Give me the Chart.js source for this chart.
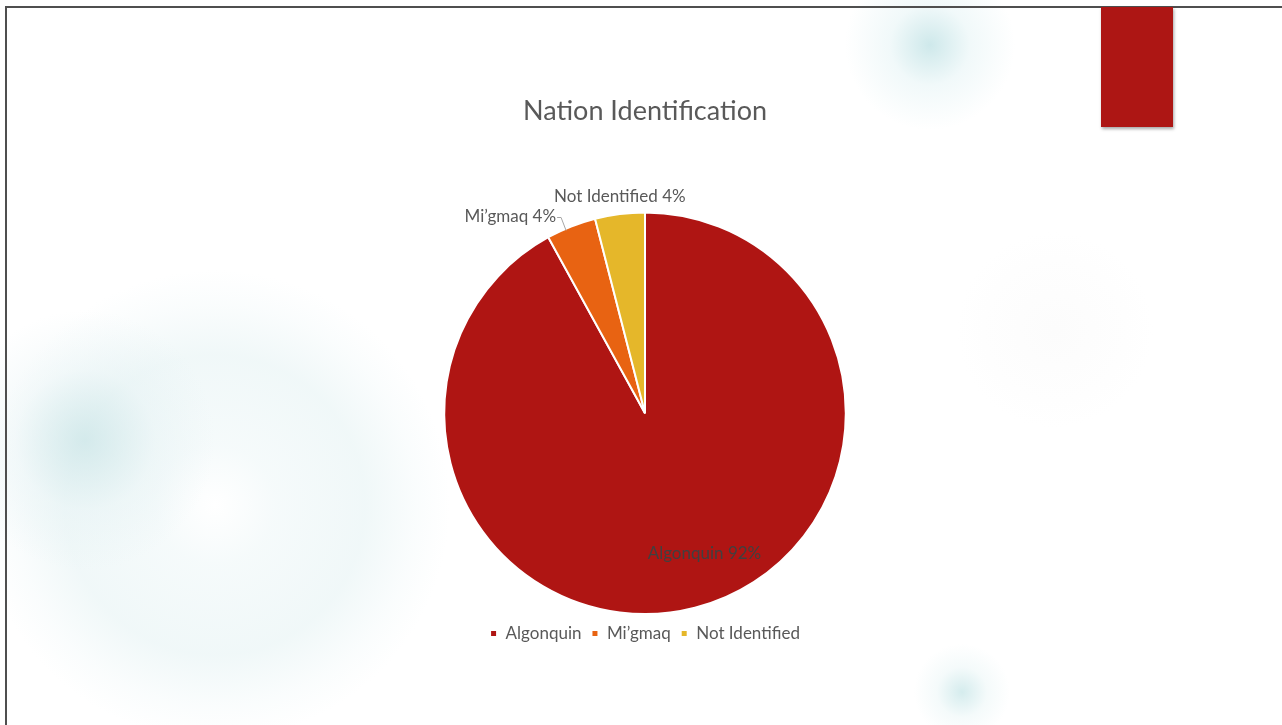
<!DOCTYPE html>
<html>
<head>
<meta charset="utf-8">
<script src="https://cdn.jsdelivr.net/npm/chart.js@4.4.1/dist/chart.umd.min.js"></script>
<style>
  html, body { margin: 0; padding: 0; background: #fff; }
  #slide {
    position: relative; width: 1282px; height: 725px; overflow: hidden;
    background:
      radial-gradient(circle at 930px 45px, rgba(190,225,228,0.75) 0, rgba(220,240,242,0.4) 40px, rgba(255,255,255,0) 85px),
      radial-gradient(circle at 962px 692px, rgba(195,228,230,0.7) 0, rgba(225,242,243,0.35) 25px, rgba(255,255,255,0) 48px),
      radial-gradient(circle at 85px 440px, rgba(200,228,230,0.7) 0, rgba(225,240,242,0.35) 70px, rgba(255,255,255,0) 130px),
      radial-gradient(circle at 215px 505px, rgba(255,255,255,0) 0, rgba(236,246,247,0.5) 60px, rgba(228,242,243,0.55) 150px, rgba(240,248,249,0.35) 200px, rgba(255,255,255,0) 235px),
      radial-gradient(circle at 1055px 330px, rgba(249,249,249,0.5) 0, rgba(252,252,252,0.35) 70px, rgba(255,255,255,0) 98px),
      #fff;
  }
  #frameTop { position: absolute; left: 5px; top: 6px; width: 1277px; height: 2px; background: #4f4f4f; }
  #frameLeft { position: absolute; left: 5px; top: 6px; width: 2px; height: 719px; background: #4f4f4f; }
  #tab {
    position: absolute; left: 1101px; top: 7px; width: 72px; height: 120px;
    background: #ad1614; box-shadow: 1px 2px 3px rgba(0,0,0,0.35);
  }
  #wrap { position: absolute; left: 0; top: 0; width: 1282px; height: 725px; }
</style>
</head>
<body>
<div id="slide">
  <div id="frameTop"></div>
  <div id="frameLeft"></div>
  <div id="tab"></div>
  <div id="wrap"><canvas id="nationChart"></canvas></div>
</div>
<script>
const nations = ["Algonquin", "Mi\u2019gmaq", "Not Identified"];
const shares = [92, 4, 4];
const sliceColors = ["#af1513", "#e86312", "#e5b72a"];

// where each slice's label goes: inside the pie or pulled outside
const labelPlacement = [
  { inside: true, dx: 22, dy: -6 },
  { inside: false, align: "right", dx: -15, dy: -10, leader: true },
  { inside: false, align: "center", dx: 0, dy: -17 }
];

const pieLabels = {
  id: "pieLabels",
  afterDatasetsDraw(chart) {
    const ctx = chart.ctx;
    const meta = chart.getDatasetMeta(0);
    const total = shares.reduce((a, b) => a + b, 0);
    ctx.save();
    ctx.font = "17px Lato, 'Noto Sans', sans-serif";
    ctx.textBaseline = "middle";
    meta.data.forEach((arc, i) => {
      const p = arc.getProps(["x", "y", "startAngle", "endAngle", "outerRadius"], true);
      const mid = (p.startAngle + p.endAngle) / 2;
      const place = labelPlacement[i];
      const text = nations[i] + " " + Math.round(shares[i] / total * 100) + "%";
      if (place.inside) {
        const r = p.outerRadius * 0.75;
        ctx.fillStyle = "#404040";
        ctx.textAlign = "center";
        ctx.fillText(text, p.x + Math.cos(mid) * r + place.dx, p.y + Math.sin(mid) * r + place.dy);
      } else {
        const ex = p.x + Math.cos(mid) * p.outerRadius;
        const ey = p.y + Math.sin(mid) * p.outerRadius;
        const tx = ex + place.dx;
        const ty = ey + place.dy;
        if (place.leader) {
          ctx.strokeStyle = "#a6a6a6";
          ctx.lineWidth = 1;
          ctx.beginPath();
          ctx.moveTo(tx + 1, ty + 1);
          ctx.lineTo(tx + 5, ty + 1);
          ctx.lineTo(ex - 5, ey + 4);
          ctx.stroke();
        }
        ctx.fillStyle = "#595959";
        ctx.textAlign = place.align;
        ctx.fillText(text, tx, ty);
      }
    });
    ctx.restore();
  }
};

new Chart(document.getElementById("nationChart"), {
  type: "pie",
  data: {
    labels: nations,
    datasets: [{
      data: shares,
      backgroundColor: sliceColors,
      borderColor: "#ffffff",
      borderWidth: 2,
      hoverOffset: 0
    }]
  },
  options: {
    responsive: true,
    maintainAspectRatio: false,
    animation: false,
    layout: { padding: { top: 95, bottom: 73, left: 8 } },
    plugins: {
      title: {
        display: true,
        text: "Nation Identification",
        color: "#595959",
        font: { family: "Lato, 'Noto Sans', sans-serif", size: 27, weight: "normal" },
        padding: { top: 0, bottom: 84 }
      },
      legend: {
        position: "bottom",
        labels: {
          color: "#595959",
          font: { family: "Lato, 'Noto Sans', sans-serif", size: 17 },
          boxWidth: 7,
          boxHeight: 7,
          padding: 10
        }
      },
      tooltip: { enabled: false }
    }
  },
  plugins: [pieLabels]
});
</script>
</body>
</html>
